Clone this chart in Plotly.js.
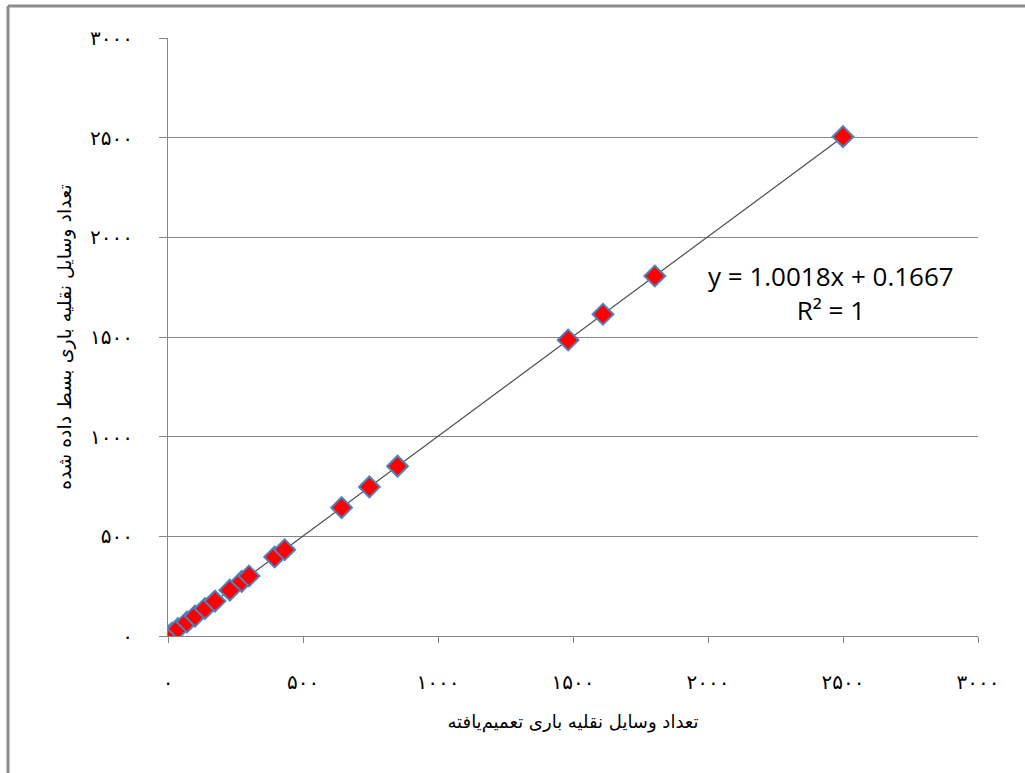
<!DOCTYPE html>
<html>
<head>
<meta charset="utf-8">
<script src="https://cdn.plot.ly/plotly-3.0.1.min.js"></script>
<style>
  html, body { margin: 0; padding: 0; background: #fff; }
  #chart { width: 1025px; height: 773px; }
</style>
</head>
<body>
<div id="chart"></div>
<script>
// Repaired freight vehicles vs. expanded freight vehicles
const repairedCount = [0, 15, 37, 70, 100, 137, 174, 229, 273, 300, 395, 432, 643, 746, 850, 1482, 1611, 1803, 2500];
const expandedCount = [0, 15, 37, 70, 100, 138, 175, 230, 274, 301, 396, 433, 644, 748, 852, 1485, 1614, 1806, 2505];

// Linear trendline stated on the chart
const slope = 1.0018;
const intercept = 0.1667;
const rSquared = 1;

// Axis ticks with Persian digits
const tickValues = [0, 500, 1000, 1500, 2000, 2500, 3000];
const tickLabels = ['۰', '۵۰۰', '۱۰۰۰', '۱۵۰۰', '۲۰۰۰', '۲۵۰۰', '۳۰۰۰'];

const xTitle = 'تعداد وسایل نقلیه باری تعمیم‌یافته';
const yTitle = 'تعداد وسایل نقلیه باری بسط داده شده';

const xMin = Math.min(...repairedCount);
const xMax = Math.max(...repairedCount);

const trend = {
  x: [xMin, xMax],
  y: [slope * xMin + intercept, slope * xMax + intercept],
  mode: 'lines',
  line: { color: '#4d4d4d', width: 1.2 },
  hoverinfo: 'skip',
  showlegend: false
};

const points = {
  x: repairedCount,
  y: expandedCount,
  mode: 'markers',
  marker: {
    symbol: 'diamond',
    size: 16,
    color: '#ff0000',
    line: { color: '#4f81bd', width: 2 }
  },
  showlegend: false
};

const frameColor = '#8c8c8c';
const persianFont = 'DejaVu Sans, Noto Sans, sans-serif';

const layout = {
  width: 1025,
  height: 773,
  margin: { l: 168, r: 47, t: 38, b: 137 },
  paper_bgcolor: '#ffffff',
  plot_bgcolor: '#ffffff',
  xaxis: {
    range: [0, 3000],
    tickmode: 'array',
    tickvals: tickValues,
    ticktext: tickLabels,
    showgrid: false,
    zeroline: false,
    showline: true,
    linecolor: '#868686',
    linewidth: 1,
    ticks: 'outside',
    ticklen: 6,
    tickcolor: '#868686',
    ticklabelstandoff: 22,
    tickfont: { family: persianFont, size: 20, color: '#000' },
    title: { text: xTitle, font: { family: persianFont, size: 18, color: '#000' }, standoff: 22 }
  },
  yaxis: {
    range: [0, 3000],
    tickmode: 'array',
    tickvals: tickValues,
    ticktext: tickLabels,
    showgrid: true,
    gridcolor: '#868686',
    gridwidth: 1,
    zeroline: false,
    showline: true,
    linecolor: '#868686',
    linewidth: 1,
    ticks: 'outside',
    ticklen: 8,
    tickcolor: '#868686',
    ticklabelstandoff: 22,
    tickfont: { family: persianFont, size: 20, color: '#000' },
    title: { text: yTitle, font: { family: persianFont, size: 19, color: '#000' }, standoff: 13 }
  },
  annotations: [{
    x: 2457, y: 1721, xref: 'x', yref: 'y',
    text: 'y = ' + slope.toFixed(4) + 'x + ' + intercept.toFixed(4) + '<br>R² = ' + rSquared,
    showarrow: false,
    align: 'center',
    font: { family: 'Open Sans, Liberation Sans, sans-serif', size: 26, color: '#000' }
  }],
  shapes: [
    { type: 'line', xref: 'paper', yref: 'paper', x0: -0.1975, x1: 1.06, y0: 1.0535, y1: 1.0535,
      line: { color: frameColor, width: 3 } },
    { type: 'line', xref: 'paper', yref: 'paper', x0: -0.1975, x1: -0.1975, y0: 1.0535, y1: -0.24,
      line: { color: frameColor, width: 3 } }
  ]
};

Plotly.newPlot('chart', [trend, points], layout, { displayModeBar: false, staticPlot: true });
</script>
</body>
</html>
